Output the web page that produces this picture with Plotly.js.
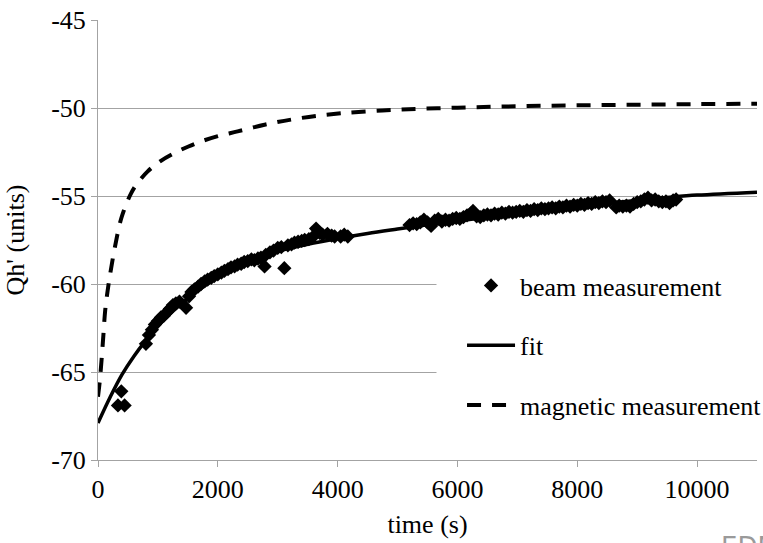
<!DOCTYPE html>
<html>
<head>
<meta charset="utf-8">
<script src="https://cdn.plot.ly/plotly-3.0.1.min.js"></script>
<style>html,body{margin:0;padding:0;background:#fff;}#chart{width:763px;height:543px;}</style>
</head>
<body>
<div id="chart"></div>
<script>
// beam measurement (time s, Qh' units)
var beamTime = [333,389,444,800,850,900,950,1000,1050,1100,1150,1200,1250,1300,1360,1470,1520,1560,1610,1670,1720,1780,1830,1890,1940,2000,2060,2110,2170,2220,2280,2330,2390,2440,2500,2560,2610,2670,2720,2780,2800,2870,2930,3000,3060,3110,3170,3230,3280,3340,3400,3450,3520,3580,3640,3700,3750,3830,3900,3950,4050,4110,4170,
5200,5260,5320,5380,5440,5500,5560,5620,5680,5740,5800,5860,5920,5980,6040,6100,6160,6220,6260,6320,6380,6440,6500,6560,6620,6680,6740,6800,6860,6920,6980,7040,7100,7160,7220,7280,7340,7400,7460,7520,7580,7640,7700,7760,7820,7880,7940,8000,8060,8120,8180,8240,8300,8360,8420,8480,8540,8650,8700,8760,8820,8880,8940,9000,9060,9120,9180,9240,9300,9360,9420,9480,9540,9600,9650];
var beamQh = [-66.9,-66.1,-66.9,-63.4,-62.9,-62.6,-62.3,-62.1,-61.9,-61.8,-61.6,-61.4,-61.2,-61.1,-61.0,-61.35,-60.7,-60.45,-60.3,-60.15,-60.0,-59.85,-59.75,-59.65,-59.55,-59.45,-59.35,-59.25,-59.15,-59.05,-59.0,-58.9,-58.85,-58.75,-58.7,-58.6,-58.65,-58.55,-58.5,-59.0,-58.35,-58.2,-58.1,-57.95,-57.9,-59.1,-57.8,-57.75,-57.65,-57.6,-57.55,-57.5,-57.45,-57.35,-56.85,-57.1,-57.2,-57.15,-57.25,-57.3,-57.3,-57.2,-57.3,
-56.65,-56.55,-56.6,-56.5,-56.35,-56.5,-56.7,-56.4,-56.3,-56.45,-56.35,-56.4,-56.3,-56.25,-56.3,-56.2,-56.1,-56.0,-55.85,-56.15,-56.2,-56.1,-56.05,-56.1,-56.0,-56.05,-55.95,-56.0,-55.9,-55.95,-55.9,-55.85,-55.9,-55.8,-55.85,-55.75,-55.8,-55.7,-55.75,-55.7,-55.65,-55.7,-55.6,-55.65,-55.55,-55.6,-55.5,-55.55,-55.45,-55.5,-55.4,-55.45,-55.35,-55.4,-55.3,-55.35,-55.25,-55.65,-55.55,-55.6,-55.55,-55.6,-55.45,-55.35,-55.3,-55.2,-55.1,-55.25,-55.2,-55.3,-55.35,-55.3,-55.4,-55.25,-55.2];

// fit curve
var fitTime = [0,200,400,600,800,1000,1250,1500,1800,2100,2500,3000,3500,4000,4500,5000,5500,6000,6500,7000,7500,8000,8500,9000,9500,10000,11000];
var fitQh = [-67.9,-66.45,-65.15,-64.1,-63.2,-62.4,-61.55,-60.82,-60.05,-59.4,-58.75,-58.15,-57.75,-57.42,-57.13,-56.88,-56.64,-56.42,-56.2,-55.99,-55.79,-55.6,-55.42,-55.25,-55.09,-54.95,-54.78];

// magnetic measurement
var magTime = [0,30,60,90,120,160,200,280,390,530,620,830,1050,1280,1500,1720,2000,2330,2780,3330,4050,5000,6000,7000,8000,9000,10000,11000];
var magQh = [-66.4,-65.5,-64.3,-62.9,-61.5,-60.4,-59.5,-57.95,-56.25,-55.0,-54.45,-53.6,-53.0,-52.55,-52.2,-51.9,-51.6,-51.33,-50.95,-50.6,-50.3,-50.1,-49.98,-49.9,-49.85,-49.81,-49.78,-49.76];

var xTickVals = [0,2000,4000,6000,8000,10000];
var xTickText = ['0','2000','4000','6000','8000','10000'];
var yTickVals = [-70,-65,-60,-55,-50,-45];
var yTickText = ['-70','-65','-60','-55','-50','-45'];

var serif = '"Times New Roman", "Liberation Serif", "DejaVu Serif", serif';
var grid = '#a3a3a3';

var traces = [
  {x: beamTime, y: beamQh, name: 'beam measurement', mode: 'markers', type: 'scatter',
   legendgroup: 'a',
   marker: {symbol: 'diamond', size: 11, color: '#000'}},
  {x: fitTime, y: fitQh, name: 'fit', mode: 'lines', type: 'scatter', legendgroup: 'b',
   line: {color: '#000', width: 3.5, shape: 'spline'}},
  {x: magTime, y: magQh, name: 'magnetic measurement', mode: 'lines', type: 'scatter', legendgroup: 'c',
   line: {color: '#000', width: 4, dash: '14px,11px', shape: 'spline'}}
];

var layout = {
  width: 763, height: 543,
  margin: {l: 98, r: 6, t: 20, b: 83, autoexpand: false},
  paper_bgcolor: '#fff', plot_bgcolor: '#fff',
  font: {family: serif, size: 26, color: '#000'},
  showlegend: true,
  legend: {x: 0.5524, y: 0.45, xanchor: 'left', yanchor: 'top',
    bgcolor: 'rgba(0,0,0,0)', borderwidth: 0, itemwidth: 48, tracegroupgap: 23,
    font: {family: serif, size: 26, color: '#000'}},
  xaxis: {range: [0, 11000], tickvals: xTickVals, ticktext: xTickText,
    showgrid: false, zeroline: false, showline: true, linecolor: grid, linewidth: 1,
    ticks: 'outside', ticklen: 6, tickcolor: grid,
    tickfont: {family: serif, size: 26},
    title: {text: 'time (s)', font: {family: serif, size: 26}, standoff: 11}},
  yaxis: {range: [-70, -45], tickvals: yTickVals, ticktext: yTickText,
    showgrid: true, gridcolor: grid, gridwidth: 1, zeroline: false,
    showline: true, linecolor: grid, linewidth: 1,
    ticks: 'outside', ticklen: 6, tickcolor: grid,
    tickfont: {family: serif, size: 26},
    title: {text: "Qh' (units)", font: {family: serif, size: 26}, standoff: 19}},
  shapes: [{type: 'rect', xref: 'x', yref: 'y', layer: 'between',
    x0: 5650, x1: 11000, y0: -69.6, y1: -58.1, fillcolor: '#fff', line: {width: 0}}],
  annotations: [{xref: 'paper', yref: 'paper', x: 0.942, y: -0.16, xanchor: 'left', yanchor: 'top',
    text: 'EDM', showarrow: false, font: {family: '"DejaVu Sans", sans-serif', size: 26, color: '#9a9a9a'}}]
};

Plotly.newPlot('chart', traces, layout, {displayModeBar: false, staticPlot: true});
</script>
</body>
</html>
